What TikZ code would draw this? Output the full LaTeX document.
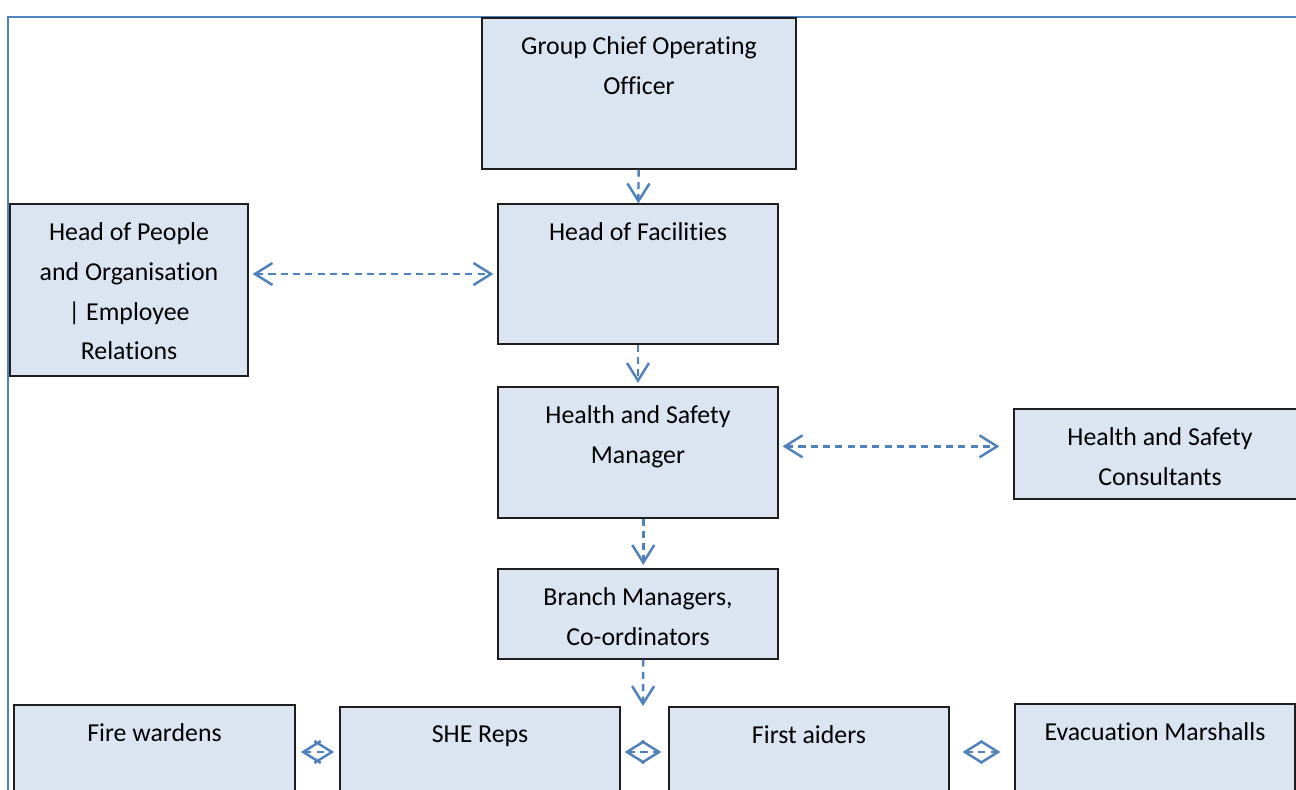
\documentclass[tikz,border=0pt]{standalone}
\usepackage{fontspec}
\setmainfont{Carlito}[Ligatures=NoCommon]
\usetikzlibrary{positioning,arrows.meta}
\definecolor{orgBlue}{RGB}{79,129,189}
\definecolor{orgFill}{RGB}{219,229,241}
\definecolor{orgLine}{RGB}{30,30,30}
\tikzset{
    base/.style={font=\fontsize{14.7}{22.6}\selectfont, align=center, text=black},
    post/.style={rectangle, draw=orgLine, line width=0.7pt, fill=orgFill, inner sep=0pt},
    caption/.style={base, inner sep=0pt, anchor=north},
    link/.style={{Straight Barb[length=10pt,width=12.5pt]}-{Straight Barb[length=10pt,width=12.5pt]},
                 orgBlue, line width=1.4pt, dash pattern=on 4pt off 3pt},
    down/.style={-{Straight Barb[length=10pt,width=12.5pt]}, orgBlue, line width=1.4pt,
                 dash pattern=on 4pt off 3pt},
    frame/.style={orgBlue, line width=1.2pt}
}

\begin{document}
\begin{tikzpicture}[x=0.02cm, y=-0.02cm]
  \useasboundingbox (0,0) rectangle (1296,790);

  % Outer border
  \draw[frame] (8,850) -- (8,17) -- (1350,17);

  % Management chain
  \node[post, minimum width=6.28cm, minimum height=3.02cm] (gcoo) at (639,93.5) {};
  \node[post, minimum width=5.6cm, minimum height=2.8cm] (hof) at (638,274) {};
  \node[post, minimum width=4.76cm, minimum height=3.44cm] (hop) at (129,290) {};
  \node[post, minimum width=5.6cm, minimum height=2.62cm] (hsm) at (638,452.5) {};
  \node[post, minimum width=5.84cm, minimum height=1.8cm] (hsc) at (1160,454) {};
  \node[post, minimum width=5.6cm, minimum height=1.8cm] (bm) at (638,614) {};

  % Site roles
  \node[post, minimum width=5.62cm, minimum height=2.5cm] (fire) at (154.5,767.5) {};
  \node[post, minimum width=5.6cm, minimum height=2.46cm] (she) at (480,768.5) {};
  \node[post, minimum width=5.6cm, minimum height=2.46cm] (first) at (809,768.5) {};
  \node[post, minimum width=5.6cm, minimum height=2.52cm] (evac) at (1155,767) {};

  % Titles
  \node[caption, below=0.38cm of gcoo.north] {Group Chief Operating\\Officer};
  \node[caption, below=0.38cm of hof.north] {Head of Facilities};
  \node[caption, below=0.38cm of hop.north] {Head of People\\and Organisation\\| Employee\\Relations};
  \node[caption, below=0.38cm of hsm.north] {Health and Safety\\Manager};
  \node[caption, below=0.38cm of hsc.north] {Health and Safety\\Consultants};
  \node[caption, below=0.38cm of bm.north] {Branch Managers,\\Co-ordinators};
  \node[caption, below=0.38cm of fire.north] {Fire wardens};
  \node[caption, below=0.38cm of she.north] {SHE Reps};
  \node[caption, below=0.38cm of first.north] {First aiders};
  \node[caption, below=0.38cm of evac.north] {Evacuation Marshalls};

  % Reporting lines
  \coordinate (row) at (643,706);
  \draw[down] (gcoo) -- (hof);
  \draw[down, shorten >=2pt] (hof) -- (hsm);
  \draw[down, shorten >=2pt] ([xshift=3pt]hsm.south) -- ([xshift=3pt]bm.north);
  \draw[down] ([xshift=3pt]bm.south) -- (row);

  % Liaison
  \draw[link, shorten <=2.3pt, shorten >=2.3pt] (hop.east |- hof.west) -- (hof.west);
  \draw[link, shorten <=2.3pt, shorten >=8pt] ([yshift=3.5pt]hsm.east) -- ([yshift=3.5pt]hsm.east -| hsc.west);
  \draw[link, shorten <=3pt, shorten >=3pt] (fire.east |- 0,752) -- (she.west |- 0,752);
  \draw[link, shorten <=2.3pt, shorten >=4pt] (she.east |- 0,752) -- (first.west |- 0,752);
  \draw[link, shorten <=7.4pt, shorten >=8pt] (first.east |- 0,752) -- (evac.west |- 0,752);
\end{tikzpicture}
\end{document}
